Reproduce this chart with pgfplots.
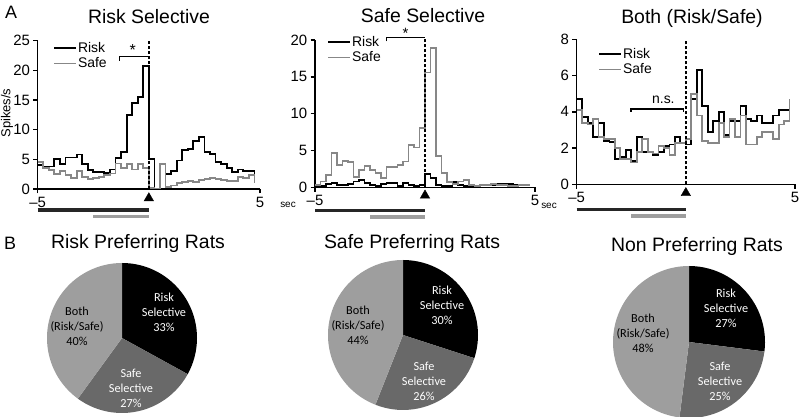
\documentclass[border=0pt]{standalone}
\usepackage{pgfplots}
\pgfplotsset{compat=1.18}
\usepackage{fontspec}
\setmainfont{Liberation Sans}
\newfontfamily\calibri{Carlito}
\definecolor{safegray}{gray}{0.53}
\definecolor{pieSafe}{gray}{0.41}
\definecolor{pieBoth}{gray}{0.62}
\definecolor{barGray}{gray}{0.62}
\definecolor{barBlack}{gray}{0.15}
\pgfplotsset{
  histax/.style={
    scale only axis, anchor=south west,
    xmin=-5, xmax=5, ymin=0,
    axis x line=bottom, axis y line=left,
    axis line style={-, line width=1.4bp},
    xtick={-5,5}, xticklabels={\textendash5,5},
    tick align=outside, major tick length=4.3bp,
    every tick/.style={black, line width=1.4bp},
    ticklabel style={font=\fontsize{15}{18}\selectfont},
    /pgf/number format/assume math mode=true,
    clip=false,
    legend cell align=left,
    legend style={draw=none, fill=none, anchor=north west, font=\fontsize{14}{17}\selectfont, inner sep=0pt, row sep=2bp, nodes={inner sep=1bp}},
    legend image code/.code={\draw[#1, line width=1.8bp] (0bp,0bp) -- (22bp,0bp);},
  },
  riskline/.style={const plot, black, line width=1.8bp},
  safeline/.style={const plot, safegray, line width=1.8bp},
  dashline/.style={black, line width=1.3bp, dash pattern=on 3bp off 2bp, forget plot},
  brk/.style={black, line width=1.3bp, forget plot},
  tri/.style={only marks, mark=triangle*, mark size=5.5bp, black, forget plot},
  bbar/.style={barBlack, line width=3.5bp, forget plot},
  gbar/.style={barGray, line width=3.5bp, forget plot},
  pieax/.style={anchor=center, hide axis, scale only axis, xmin=-1, xmax=1, ymin=-1, ymax=1, clip=false},
}
\begin{document}
\begin{tikzpicture}
\useasboundingbox (0bp,0bp) rectangle (800bp,417bp);

% ---------------- Panel A1: Risk Selective
\begin{axis}[histax, at={(37.7bp,228bp)}, width=222.3bp, height=148.3bp, ymax=25, ytick={0,5,10,15,20,25},
  legend style={at={(0.069,0.998)}}]
\addplot[riskline] coordinates {
(-5,4.1) (-4.75,3.8) (-4.5,3.8) (-4.25,5.0) (-4,4.2) (-3.75,5.3) (-3.5,5.3) (-3.25,5.8) (-3,4.2) (-2.75,3.2)
(-2.5,2.9) (-2.25,2.8) (-2,2.7) (-1.75,3.3) (-1.5,5.2) (-1.25,6.3) (-1,12.5) (-0.75,14.5) (-0.5,15.5) (-0.25,20.8)
(0,5.1) (0.25,0.1) (0.5,0.1) (0.75,2.5) (1,3.0) (1.25,4.8) (1.5,6.6) (1.75,6.8) (2,8.1) (2.25,8.8)
(2.5,6.2) (2.75,5.9) (3,4.5) (3.25,4.2) (3.5,3.6) (3.75,2.9) (4,3.3) (4.25,3.0) (4.5,3.0) (4.75,2.6)};
\addlegendentry{Risk}
\addplot[safeline] coordinates {
(-5,4.5) (-4.75,3.6) (-4.5,3.2) (-4.25,2.5) (-4,3.0) (-3.75,2.4) (-3.5,1.8) (-3.25,3.0) (-3,2.0) (-2.75,1.7)
(-2.5,1.8) (-2.25,2.0) (-2,2.3) (-1.75,2.6) (-1.5,4.3) (-1.25,3.5) (-1,4.2) (-0.75,3.3) (-0.5,4.2) (-0.25,3.5)
(0,0.2) (0.25,0.1) (0.5,4.2) (0.75,0.4) (1,0.6) (1.25,1.0) (1.5,1.2) (1.75,1.3) (2,1.2) (2.25,1.5)
(2.5,1.7) (2.75,1.9) (3,1.7) (3.25,1.5) (3.5,1.4) (3.75,1.4) (4,2.0) (4.25,1.8) (4.5,2.3) (4.75,1.0)};
\addlegendentry{Safe}
\addplot[dashline] coordinates {(0,0) (0,25)};
\addplot[brk] coordinates {(-1.33,21.6) (-1.33,22.3) (0,22.3)};
\node[inner sep=0pt, font=\fontsize{16}{16}\selectfont] at (axis cs:-0.72,23.4) {*};
\addplot[tri] coordinates {(0,-1.55)};
\addplot[bbar] coordinates {(-5,-3.54) (0,-3.54)};
\addplot[gbar] coordinates {(-2.5,-4.67) (0,-4.67)};
\end{axis}

% ---------------- Panel A2: Safe Selective
\begin{axis}[histax, at={(315bp,229.7bp)}, width=220bp, height=147.3bp, ymax=20, ytick={0,5,10,15,20},
  legend style={at={(0.055,1.034)}}]
\addplot[riskline] coordinates {
(-5,0.1) (-4.75,0.2) (-4.5,0.4) (-4.25,0.6) (-4,0.3) (-3.75,0.3) (-3.5,0.5) (-3.25,0.8) (-3,1.0) (-2.75,0.6)
(-2.5,0.3) (-2.25,0.2) (-2,0.5) (-1.75,0.6) (-1.5,0.6) (-1.25,0.2) (-1,0.6) (-0.75,0.3) (-0.5,0.2) (-0.25,0.3)
(0,1.8) (0.25,1.3) (0.5,0.3) (0.75,0.2) (1,0.2) (1.25,0.7) (1.5,0.3) (1.75,0.2) (2,0.2) (2.25,0.2)
(2.5,0.3) (2.75,0.3) (3,0.3) (3.25,0.4) (3.5,0.4) (3.75,0.4) (4,0.3) (4.25,0.3) (4.5,0.3) (4.75,0.3)};
\addlegendentry{Risk}
\addplot[safeline] coordinates {
(-5,0.3) (-4.75,0.8) (-4.5,1.7) (-4.25,4.7) (-4,3.0) (-3.75,3.6) (-3.5,3.4) (-3.25,1.4) (-3,2.3) (-2.75,2.9)
(-2.5,2.4) (-2.25,1.9) (-2,1.3) (-1.75,2.8) (-1.5,2.8) (-1.25,3.0) (-1,3.5) (-0.75,5.7) (-0.5,5.4) (-0.25,8.0)
(0,15.6) (0.25,18.9) (0.5,4.3) (0.75,1.9) (1,0.7) (1.25,0.5) (1.5,0.8) (1.75,1.0) (2,0.3) (2.25,0.2)
(2.5,0.3) (2.75,0.3) (3,0.4) (3.25,0.3) (3.5,0.3) (3.75,0.2) (4,0.2) (4.25,0.3) (4.5,0.3) (4.75,0.3)};
\addlegendentry{Safe}
\addplot[dashline] coordinates {(0,0) (0,20.35)};
\addplot[brk] coordinates {(-1.74,19.8) (-1.74,20.35) (0,20.35)};
\node[inner sep=0pt, font=\fontsize{15}{15}\selectfont] at (axis cs:-0.88,20.85) {*};
\addplot[tri] coordinates {(0,-1.11)};
\addplot[bbar] coordinates {(-5,-3.17) (0,-3.17)};
\addplot[gbar] coordinates {(-2.5,-4.03) (0,-4.03)};
\end{axis}

% ---------------- Panel A3: Both
\begin{axis}[histax, at={(576.7bp,232.7bp)}, width=218.3bp, height=145bp, ymax=8, ytick={0,2,4,6,8},
  legend style={at={(0.098,0.947)}}]
\addplot[riskline] coordinates {
(-5,4.7) (-4.75,3.7) (-4.5,3.4) (-4.25,2.6) (-4,3.4) (-3.75,2.4) (-3.5,2.35) (-3.25,1.4) (-3,1.5) (-2.75,1.9)
(-2.5,1.3) (-2.25,2.6) (-2,1.8) (-1.75,1.8) (-1.5,1.6) (-1.25,1.8) (-1,2.1) (-0.75,2.2) (-0.5,2.6) (-0.25,2.3)
(0,2.2) (0.25,4.7) (0.5,6.3) (0.75,4.3) (1,2.9) (1.25,3.5) (1.5,4.0) (1.75,2.7) (2,3.5) (2.25,3.5)
(2.5,4.3) (2.75,3.6) (3,3.5) (3.25,3.8) (3.5,3.4) (3.75,3.4) (4,3.8) (4.25,4.1) (4.5,4.1) (4.75,4.1)};
\addlegendentry{Risk}
\addplot[safeline] coordinates {
(-5,4.1) (-4.75,3.4) (-4.5,3.3) (-4.25,3.6) (-4,2.6) (-3.75,2.5) (-3.5,2.5) (-3.25,2.0) (-3,1.4) (-2.75,1.4)
(-2.5,1.2) (-2.25,1.8) (-2,2.5) (-1.75,1.8) (-1.5,1.7) (-1.25,2.1) (-1,2.0) (-0.75,1.6) (-0.5,2.3) (-0.25,2.3)
(0,2.5) (0.25,5.0) (0.5,3.8) (0.75,2.4) (1,2.3) (1.25,2.3) (1.5,3.4) (1.75,2.6) (2,3.6) (2.25,2.6)
(2.5,3.8) (2.75,2.2) (3,2.2) (3.25,2.6) (3.5,2.9) (3.75,2.9) (4,2.5) (4.25,3.3) (4.5,3.5) (4.75,4.7)};
\addlegendentry{Safe}
\addplot[dashline] coordinates {(0,0) (0,8)};
\addplot[brk] coordinates {(-2.51,4.0) (-2.51,4.16) (-0.12,4.16) (-0.12,4.0)};
\node[font=\fontsize{14}{14}\selectfont] at (axis cs:-1.03,4.65) {n.s.};
\addplot[tri] coordinates {(0,-0.48)};
\addplot[bbar] coordinates {(-5,-1.38) (0,-1.38)};
\addplot[gbar] coordinates {(-2.5,-1.75) (0,-1.75)};
\end{axis}

% ---------------- texts of panel A
\tikzset{ttl/.style={inner sep=0pt, font=\fontsize{19.5}{20}\selectfont}}
\node[font=\fontsize{18}{18}\selectfont] at (11bp,405bp) {A};
\node[ttl] at (149bp,400bp) {Risk Selective};
\node[ttl] at (423bp,401bp) {Safe Selective};
\node[ttl] at (692bp,399bp) {Both (Risk/Safe)};
\node[font=\fontsize{13}{13}\selectfont, rotate=90] at (7bp,304bp) {Spikes/s};
\node[font=\fontsize{10}{10}\selectfont] at (288bp,212bp) {sec};
\node[font=\fontsize{10}{10}\selectfont] at (549bp,211bp) {sec};

% ---------------- Panel B: pies
\begin{axis}[pieax, at={(122bp,79bp)}, width=150bp, height=150bp]
\fill[black] (axis cs:0,0) -- (axis cs:0,1) arc[start angle=90, delta angle={-3.6*33}, radius=75bp] -- cycle;
\fill[pieSafe] (axis cs:0,0) -- ++({90-3.6*33}:75bp) arc[start angle={90-3.6*33}, delta angle={-3.6*27}, radius=75bp] -- cycle;
\fill[pieBoth] (axis cs:0,0) -- ++({90-3.6*60}:75bp) arc[start angle={90-3.6*60}, delta angle={-3.6*40}, radius=75bp] -- cycle;
\end{axis}
\begin{axis}[pieax, at={(403bp,82bp)}, width=150bp, height=150bp]
\fill[black] (axis cs:0,0) -- (axis cs:0,1) arc[start angle=90, delta angle={-3.6*30}, radius=75bp] -- cycle;
\fill[pieSafe] (axis cs:0,0) -- ++({90-3.6*30}:75bp) arc[start angle={90-3.6*30}, delta angle={-3.6*26}, radius=75bp] -- cycle;
\fill[pieBoth] (axis cs:0,0) -- ++({90-3.6*56}:75bp) arc[start angle={90-3.6*56}, delta angle={-3.6*44}, radius=75bp] -- cycle;
\end{axis}
\begin{axis}[pieax, at={(689bp,75bp)}, width=152bp, height=152bp]
\fill[black] (axis cs:0,0) -- (axis cs:0,1) arc[start angle=90, delta angle={-3.6*27}, radius=76bp] -- cycle;
\fill[pieSafe] (axis cs:0,0) -- ++({90-3.6*27}:76bp) arc[start angle={90-3.6*27}, delta angle={-3.6*25}, radius=76bp] -- cycle;
\fill[pieBoth] (axis cs:0,0) -- ++({90-3.6*52}:76bp) arc[start angle={90-3.6*52}, delta angle={-3.6*48}, radius=76bp] -- cycle;
\end{axis}

\node[font=\fontsize{18}{18}\selectfont] at (10bp,174bp) {B};
\node[ttl] at (138bp,174bp) {Risk Preferring Rats};
\node[ttl] at (412bp,174bp) {Safe Preferring Rats};
\node[ttl] at (697bp,171bp) {Non Preferring Rats};

\tikzset{pl/.style={align=center, font=\calibri\fontsize{12.3}{15}\selectfont}}
\node[pl, white] at (164bp,105bp) {Risk\\Selective\\33\%};
\node[pl, black] at (77bp,91bp) {Both\\(Risk/Safe)\\40\%};
\node[pl, white] at (131bp,29bp) {Safe\\Selective\\27\%};

\node[pl, white] at (442bp,112bp) {Risk\\Selective\\30\%};
\node[pl, black] at (358bp,92bp) {Both\\(Risk/Safe)\\44\%};
\node[pl, white] at (424bp,36bp) {Safe\\Selective\\26\%};

\node[pl, white] at (726bp,109bp) {Risk\\Selective\\27\%};
\node[pl, black] at (643bp,84bp) {Both\\(Risk/Safe)\\48\%};
\node[pl, white] at (720bp,36bp) {Safe\\Selective\\25\%};
\end{tikzpicture}
\end{document}
